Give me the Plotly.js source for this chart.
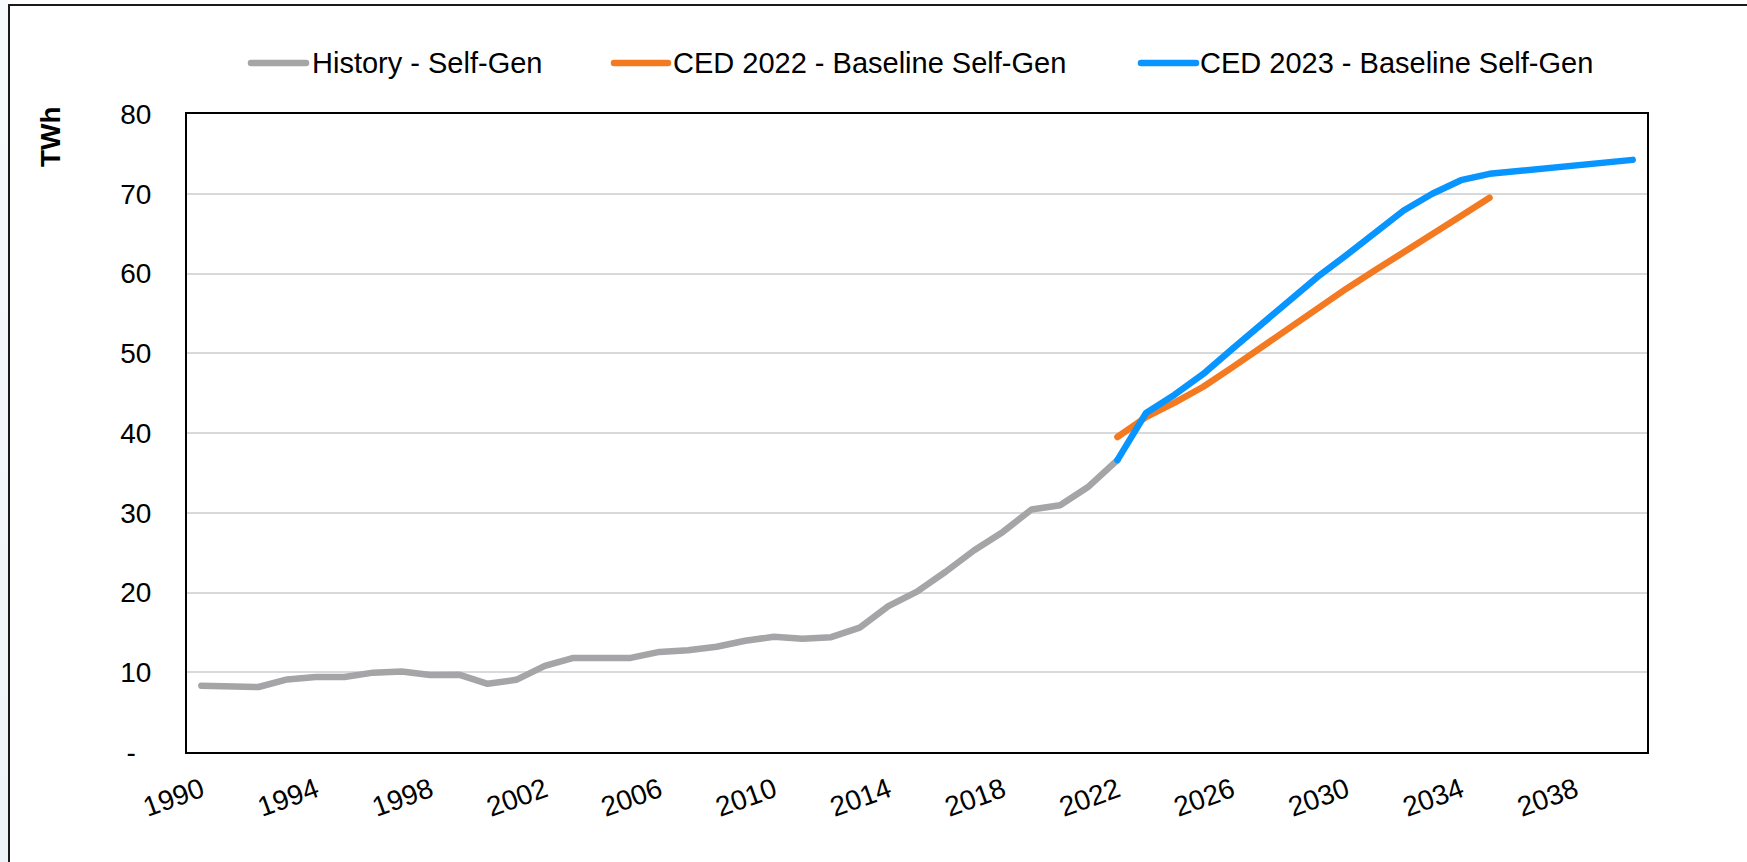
<!DOCTYPE html>
<html>
<head>
<meta charset="utf-8">
<script src="https://cdn.plot.ly/plotly-3.0.1.min.js"></script>
<style>
  html, body { margin: 0; padding: 0; background: #ffffff; }
  #wrap { position: relative; width: 1747px; height: 862px; overflow: hidden; }
  #chart { position: absolute; left: 0; top: 0; width: 1747px; height: 862px; }
  #strip { position: absolute; left: 0; top: 0; width: 8px; height: 862px;
           background: linear-gradient(to bottom, #f7fafd 0%, #edf3f9 100%); }
  #frame { position: absolute; left: 8px; top: 4px; right: -4px; bottom: -4px;
           border-top: 2px solid #1a1a1a; border-left: 2px solid #1a1a1a; pointer-events: none; }
</style>
</head>
<body>
<div id="wrap">
  <div id="strip"></div>
  <div id="chart"></div>
  <div id="frame"></div>
</div>
<script>
// ---- data ----
const histYears = [1990,1991,1992,1993,1994,1995,1996,1997,1998,1999,2000,2001,2002,2003,2004,2005,2006,2007,2008,2009,2010,2011,2012,2013,2014,2015,2016,2017,2018,2019,2020,2021,2022];
const histValues = [8.3,8.3,8.15,9.1,9.4,9.4,9.95,10.1,9.65,9.7,8.55,9.05,10.8,11.8,11.9,11.8,12.55,12.75,13.2,13.95,14.45,14.2,14.4,15.6,18.3,20.1,22.6,25.3,27.6,30.4,30.95,33.3,36.6];

const ced2022Years = [2022,2023,2024,2025,2026,2027,2028,2029,2030,2031,2032,2033,2034,2035];
const ced2022Values = [39.5,42.0,43.8,45.8,48.2,50.7,53.2,55.7,58.1,60.4,62.6,64.9,67.2,69.5];

const ced2023Years = [2022,2023,2024,2025,2026,2027,2028,2029,2030,2031,2032,2033,2034,2035,2036,2037,2038,2039,2040];
const ced2023Values = [36.6,42.5,44.8,47.4,50.5,53.6,56.6,59.6,62.3,65.1,67.9,70.0,71.7,72.5,72.85,73.2,73.5,73.85,74.25];

const seriesNames = ["History - Self-Gen", "CED 2022 - Baseline Self-Gen", "CED 2023 - Baseline Self-Gen"];
const seriesColors = ["#a5a5a8", "#f47a22", "#0895ff"];

const xTickVals = [1990,1994,1998,2002,2006,2010,2014,2018,2022,2026,2030,2034,2038];
const xTickText = ["1990","1994","1998","2002","2006","2010","2014","2018","2022","2026","2030","2034","2038"];
const yTickVals = [0,10,20,30,40,50,60,70,80];
const yTickText = ["-\u00a0\u00a0","10","20","30","40","50","60","70","80"];
const yUnit = "TWh";

// ---- geometry ----
const W = 1747, H = 862;
const plotL = 187, plotR = 1647, plotT = 114, plotB = 752;
const px2x = px => (px - plotL) / (plotR - plotL);
const py2y = py => (plotB - py) / (plotB - plotT);

const FONT = "Liberation Sans, Arial, sans-serif";
const LW = 6.5;

const traces = [
  {x: histYears, y: histValues, name: seriesNames[0], mode: "lines", line: {color: seriesColors[0], width: LW}},
  {x: ced2022Years, y: ced2022Values, name: seriesNames[1], mode: "lines", line: {color: seriesColors[1], width: LW}},
  {x: ced2023Years, y: ced2023Values, name: seriesNames[2], mode: "lines", line: {color: seriesColors[2], width: LW}}
];

// custom legend (line sample + text)
const legendY = py2y(63);
const legendItems = [
  {x0: 251, x1: 306, tx: 310},
  {x0: 614, x1: 668, tx: 671},
  {x0: 1141, x1: 1196, tx: 1198}
];
const shapes = legendItems.map((it, i) => ({
  type: "line", xref: "paper", yref: "paper",
  x0: px2x(it.x0), x1: px2x(it.x1), y0: legendY, y1: legendY,
  line: {color: seriesColors[i], width: LW}
}));
const annotations = legendItems.map((it, i) => ({
  xref: "paper", yref: "paper", x: px2x(it.tx), y: legendY,
  xanchor: "left", yanchor: "middle", showarrow: false,
  text: seriesNames[i], font: {family: FONT, size: 29, color: "#000"}
}));
annotations.push({
  xref: "paper", yref: "paper", x: px2x(50), y: py2y(137),
  xanchor: "center", yanchor: "middle", showarrow: false, textangle: -90,
  text: "<b>" + yUnit + "</b>", font: {family: FONT, size: 28, color: "#000"}
});

const layout = {
  width: W, height: H,
  margin: {l: plotL, r: W - plotR, t: plotT, b: H - plotB, pad: 0},
  paper_bgcolor: "rgba(0,0,0,0)", plot_bgcolor: "#ffffff",
  showlegend: false,
  font: {family: FONT, size: 28, color: "#000"},
  xaxis: {
    range: [1989.5, 2040.5], tickmode: "array", tickvals: xTickVals, ticktext: xTickText,
    tickangle: -20, ticks: "", ticklabelstandoff: 9,
    showgrid: false, zeroline: false,
    showline: true, linecolor: "#000", linewidth: 2, mirror: true,
    tickfont: {family: FONT, size: 28, color: "#000"}
  },
  yaxis: {
    range: [0, 80], tickmode: "array", tickvals: yTickVals, ticktext: yTickText,
    ticks: "", ticklabelstandoff: 28,
    showgrid: true, gridcolor: "#d9d9d9", gridwidth: 2, zeroline: false,
    showline: true, linecolor: "#000", linewidth: 2, mirror: true,
    tickfont: {family: FONT, size: 28, color: "#000"}
  },
  shapes: shapes,
  annotations: annotations
};

Plotly.newPlot("chart", traces, layout, {displayModeBar: false, staticPlot: true}).then(() => {
  document.querySelectorAll(".scatterlayer path.js-line").forEach(p => {
    p.style.strokeLinecap = "round";
    p.style.strokeLinejoin = "round";
  });
  document.querySelectorAll(".layer-above path, .layer-below path").forEach(p => {
    p.style.strokeLinecap = "round";
  });
});
</script>
</body>
</html>
